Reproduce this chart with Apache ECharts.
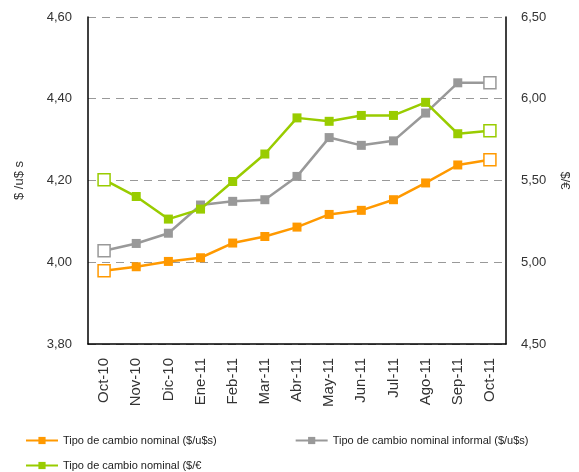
<!DOCTYPE html>
<html>
<head>
<meta charset="utf-8">
<script src="https://cdn.jsdelivr.net/npm/echarts@6/dist/echarts.min.js"></script>
<style>
  html, body { margin: 0; padding: 0; background: #fff; }
  #chart { width: 579px; height: 472px; }
</style>
</head>
<body>
<div id="chart"></div>
<script>
// meses
const categories = ['Oct-10', 'Nov-10', 'Dic-10', 'Ene-11', 'Feb-11', 'Mar-11', 'Abr-11', 'May-11', 'Jun-11', 'Jul-11', 'Ago-11', 'Sep-11', 'Oct-11']
// $/u$s oficial (eje izq.)
const oficialUsd = [3.979, 3.989, 4.002, 4.011, 4.047, 4.063, 4.086, 4.117, 4.127, 4.153, 4.194, 4.238, 4.251]
// $/u$s informal (eje izq.)
const informalUsd = [4.028, 4.046, 4.071, 4.140, 4.149, 4.153, 4.210, 4.305, 4.286, 4.297, 4.365, 4.439, 4.439]
// $/€ (eje der.)
const oficialEur = [5.505, 5.402, 5.264, 5.325, 5.494, 5.662, 5.883, 5.862, 5.898, 5.898, 5.978, 5.786, 5.805]

const names = ['Tipo de cambio nominal ($/u$s)', 'Tipo de cambio nominal informal ($/u$s)', 'Tipo de cambio nominal ($/€']
const colors = ['#FF9900', '#999999', '#99CC00']

const FONT = "'Liberation Sans Narrow', 'Liberation Sans', Arial, sans-serif"
const fmt = v => v.toFixed(2).replace('.', ',')

// primer y último punto con marcador hueco
function withOpenEnds(arr, color) {
  return arr.map((v, i) => {
    if (i === 0 || i === arr.length - 1) {
      return {
        value: v,
        symbolSize: 12,
        itemStyle: { color: '#fff', borderColor: color, borderWidth: 1.5 }
      }
    }
    return v
  })
}

function lineSeries(idx, data, yAxisIndex) {
  return {
    name: names[idx],
    type: 'line',
    yAxisIndex: yAxisIndex,
    data: withOpenEnds(data, colors[idx]),
    symbol: 'rect',
    symbolSize: 9,
    color: colors[idx],
    lineStyle: { width: 2.5, color: colors[idx] },
    itemStyle: { color: colors[idx] },
    z: idx === 2 ? 3 : 2
  }
}

const chart = echarts.init(document.getElementById('chart'))
chart.setOption({
  animation: false,
  textStyle: { fontFamily: FONT },
  grid: { left: 88, right: 64, top: 17, bottom: 128 },
  legend: [
    {
      data: [names[0], names[1]],
      left: 20,
      top: 430,
      itemWidth: 32,
      itemHeight: 9,
      itemGap: 78,
      textStyle: { fontFamily: FONT, fontSize: 11, color: '#222' }
    },
    {
      data: [names[2]],
      left: 20,
      top: 455,
      itemWidth: 32,
      itemHeight: 9,
      textStyle: { fontFamily: FONT, fontSize: 11, color: '#222' }
    }
  ],
  xAxis: {
    type: 'category',
    data: categories,
    boundaryGap: true,
    axisLine: { lineStyle: { color: '#000', width: 1.5 } },
    axisTick: { show: false },
    axisLabel: {
      rotate: 90,
      interval: 0,
      margin: 14,
      fontSize: 15,
      color: '#333',
      fontFamily: FONT
    }
  },
  yAxis: [
    {
      type: 'value',
      min: 3.8,
      max: 4.6,
      interval: 0.2,
      name: '$ /u$ s',
      nameLocation: 'middle',
      nameRotate: 90,
      nameGap: 62,
      nameTextStyle: { fontSize: 13, color: '#333', fontFamily: FONT },
      axisLine: { show: true, lineStyle: { color: '#000', width: 1.5 } },
      axisTick: { show: false },
      axisLabel: { formatter: fmt, fontSize: 13, color: '#333', margin: 16, fontFamily: FONT },
      splitLine: { show: true, lineStyle: { color: '#999', type: [8, 6], width: 1 } }
    },
    {
      type: 'value',
      min: 4.5,
      max: 6.5,
      interval: 0.5,
      name: '$/€',
      nameLocation: 'middle',
      nameRotate: -90,
      nameGap: 52,
      nameTextStyle: { fontSize: 13, color: '#333', fontFamily: FONT },
      axisLine: { show: true, lineStyle: { color: '#000', width: 1.5 } },
      axisTick: { show: false },
      axisLabel: { formatter: fmt, fontSize: 13, color: '#333', margin: 15, fontFamily: FONT },
      splitLine: { show: false }
    }
  ],
  series: [
    lineSeries(0, oficialUsd, 0),
    lineSeries(1, informalUsd, 0),
    lineSeries(2, oficialEur, 1)
  ]
})
</script>
</body>
</html>
